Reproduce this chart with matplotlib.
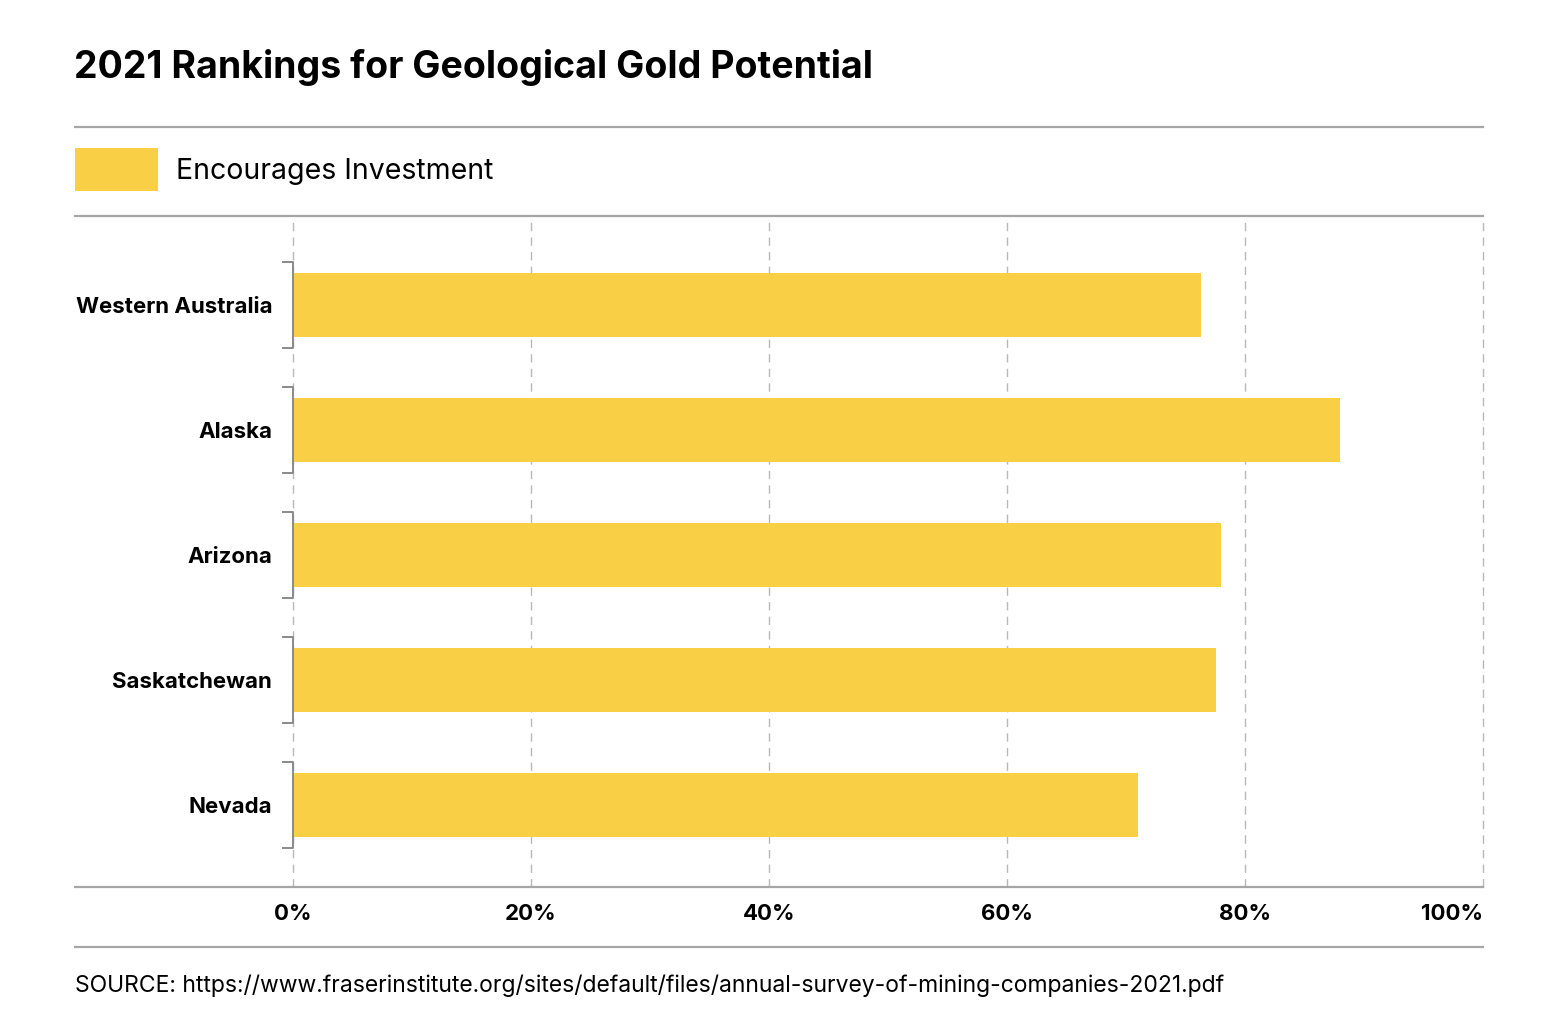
import matplotlib
matplotlib.use('Agg')
import matplotlib.pyplot as plt
from matplotlib.lines import Line2D
from matplotlib.patches import Rectangle

# data
regions = ['Western Australia', 'Alaska', 'Arizona', 'Saskatchewan', 'Nevada']
encourages = [76.3, 88.0, 78.0, 77.6, 71.0]
ticks = [0, 20, 40, 60, 80, 100]
tick_labels = ['0%', '20%', '40%', '60%', '80%', '100%']

YELLOW = '#F9D045'
RULE = '#a6a6a6'
GRID = '#b8b8b8'

plt.rcParams['font.family'] = ['Inter', 'DejaVu Sans']

W, H = 1552, 1029
fig = plt.figure(figsize=(W / 100, H / 100), dpi=100)


def fx(px):
    return px / W


def fy(py):
    return 1 - py / H


ax = fig.add_axes([fx(293), fy(887), fx(1483) - fx(293), fy(216) - fy(887)])
for s in ax.spines.values():
    s.set_visible(False)

ypos = list(range(len(regions)))
ax.barh(ypos, encourages, height=0.51, color=YELLOW, zorder=2)

for t in ticks:
    ax.axvline(t, color=GRID, lw=1.0, linestyle=(0, (6, 4.5)), zorder=1, clip_on=False)

# brackets on the category axis
for y in ypos:
    ax.plot([-0.8, 0, 0, -0.8], [y - 0.345, y - 0.345, y + 0.345, y + 0.345],
            color='#8a8a8a', lw=1.4, clip_on=False, zorder=3)

ax.set_xlim(0, 100)
ax.set_ylim(4 + 82 / 125, -89 / 125)
ax.set_yticks(ypos)
ax.set_yticklabels(regions, fontsize=16, fontweight='bold')
ax.tick_params(axis='y', length=0, pad=15)
ax.set_xticks(ticks)
ax.set_xticklabels(tick_labels, fontsize=16, fontweight='bold')
ax.tick_params(axis='x', length=0, pad=12)
ax.get_xticklabels()[-1].set_ha('right')

# horizontal rules
for py in (127, 216, 887, 947):
    fig.add_artist(Line2D([fx(75), fx(1483)], [fy(py), fy(py)], color=RULE, lw=1.6))

fig.text(fx(74), fy(67), '2021 Rankings for Geological Gold Potential',
         fontsize=27, fontweight='bold', ha='left', va='center')

fig.add_artist(Rectangle((fx(75), fy(191)), fx(158) - fx(75), fy(148) - fy(191),
                         facecolor=YELLOW, edgecolor='none', transform=fig.transFigure))
fig.text(fx(176), fy(171), 'Encourages Investment', fontsize=20.5, ha='left', va='center')

fig.text(fx(75), fy(986),
         'SOURCE: https://www.fraserinstitute.org/sites/default/files/annual-survey-of-mining-companies-2021.pdf',
         fontsize=16.5, ha='left', va='center')

fig.savefig('out.png', dpi=100, facecolor='white')
